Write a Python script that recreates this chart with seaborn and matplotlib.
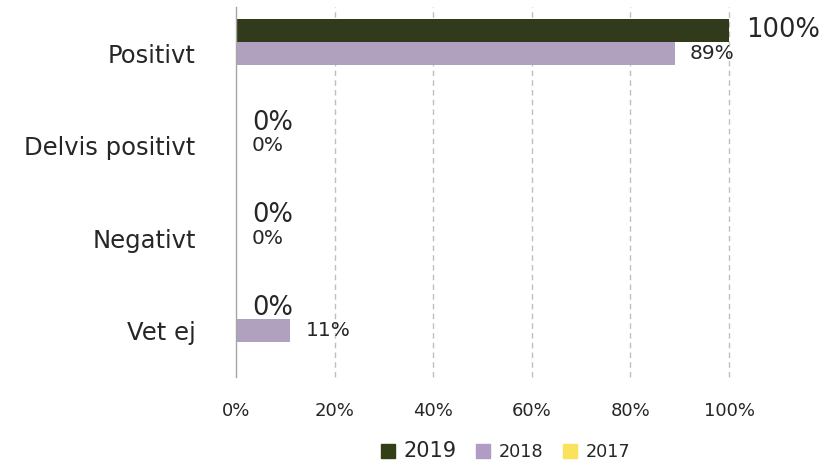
import matplotlib
matplotlib.use("Agg")
import matplotlib.pyplot as plt
import matplotlib.patches as mpatches
import pandas as pd
import seaborn as sns

# Survey answers per category, in percent
categories = ["Positivt", "Delvis positivt", "Negativt", "Vet ej"]
years = ["2019", "2018", "2017"]
v2019 = [100, 0, 0, 0]
v2018 = [89, 0, 0, 11]
v2017 = [0, 0, 0, 0]
x_ticks = [0, 20, 40, 60, 80, 100]

colors = {"2019": "#333F16", "2018": "#B09CC4", "2017": "#F9E35C"}
text_color = "#262626"

df = pd.DataFrame({
    "Kategori": categories * 3,
    "År": ["2019"] * 4 + ["2018"] * 4 + ["2017"] * 4,
    "Andel": v2019 + v2018 + v2017,
})

sns.set_theme(style="white")
plt.rcParams["font.family"] = ["DejaVu Sans"]

fig = plt.figure(figsize=(8.26, 4.65), dpi=100)
ax = fig.add_axes([0.2857, 0.189, 0.5969, 0.796])

sns.barplot(data=df, y="Kategori", x="Andel", hue="År", hue_order=years,
            order=categories, palette=colors, orient="h", width=0.75,
            edgecolor="none", linewidth=0, ax=ax, legend=False, zorder=3)

ax.set_xlim(0, 100)
ax.set_xticks(x_ticks)
ax.set_xticklabels([f"{t}%" for t in x_ticks])
ax.set_xlabel("")
ax.set_ylabel("")

# dashed vertical gridlines, solid axis line at zero
ax.grid(False)
for t in x_ticks[1:]:
    ax.axvline(t, color="#BFBFBF", linestyle=(0, (4, 3)), linewidth=1.0,
               zorder=1, clip_on=False)
for side in ["top", "right", "bottom"]:
    ax.spines[side].set_visible(False)
ax.spines["left"].set_color("#A6A6A6")
ax.spines["left"].set_linewidth(1.0)
ax.spines["left"].set_zorder(5)

ax.tick_params(axis="x", length=0, pad=18, labelsize=13, labelcolor=text_color)
ax.tick_params(axis="y", length=0, pad=29, labelsize=17.5, labelcolor=text_color)

# value labels: 2019 larger, 2018 smaller, 2017 unlabelled
label_values = {"2019": v2019, "2018": v2018}
label_style = {"2019": dict(fontsize=18.5, padding=12),
               "2018": dict(fontsize=14.5, padding=11)}
for year, container in zip(years, ax.containers):
    if year not in label_values:
        continue
    ax.bar_label(container, labels=[f"{v}%" for v in label_values[year]],
                 color=text_color, **label_style[year])

handles = [mpatches.Patch(color=colors[y], label=y) for y in years]
leg = fig.legend(handles=handles, loc="center", bbox_to_anchor=(0.612, 0.03),
                 ncol=3, frameon=False, fontsize=12.7, handlelength=0.8,
                 handleheight=0.8, handletextpad=0.5, columnspacing=1.1)
for txt in leg.get_texts():
    txt.set_color(text_color)
leg.get_texts()[0].set_fontsize(15)

fig.savefig("out.png", dpi=100)
